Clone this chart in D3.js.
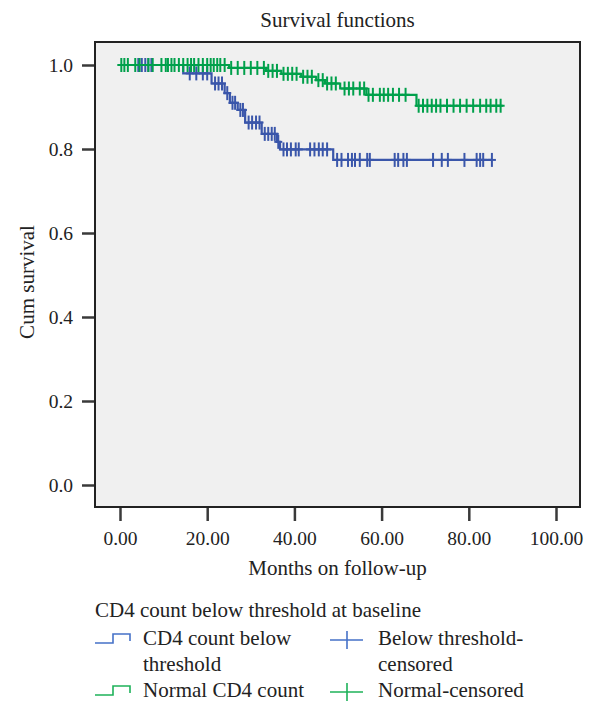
<!DOCTYPE html>
<html>
<head>
<meta charset="utf-8">
<script src="https://cdn.jsdelivr.net/npm/d3@7"></script>
<style>
    body { margin: 0; background: #fff; }
    svg text { font-family: 'Liberation Serif', 'Times New Roman', serif; fill: #222; }
</style>
</head>
<body>
<svg id="chart" width="595" height="701"></svg>
<script>

// Kaplan-Meier steps (months, cumulative survival)
var belowTimes = [0, 14.5, 21, 24, 25.2, 27, 28.7, 32.5, 36, 36.7, 48.9];
var belowSurv = [1, 0.980, 0.956, 0.933, 0.910, 0.893, 0.863, 0.836, 0.817, 0.799, 0.774];
var belowEnd = 85.3;
var belowCensored = [4.2, 5, 5.8, 6.5, 7.2, 16, 17.5, 19, 20, 21.8, 22.6, 23.4, 24.6,
    25.8, 26.4, 27.6, 28.2, 29.5, 30.3, 31.2, 32, 33.2, 34, 34.8, 35.5, 36.3,
    37.5, 38.3, 39.2, 40.3, 41, 43.6, 44.6, 45.6, 46.5, 47.5,
    49.8, 50.8, 52.3, 53.2, 53.9, 55, 56.7, 57.3, 63, 63.8, 65, 65.8,
    71.8, 73.8, 75.2, 79, 81.8, 82.6, 83.3, 85.3];

var normalTimes = [0, 25, 33.5, 37, 41.5, 45, 47, 50.5, 56.5, 68];
var normalSurv = [1, 0.993, 0.986, 0.979, 0.972, 0.964, 0.956, 0.944, 0.929, 0.903];
var normalEnd = 87.8;
var normalCensored = [0.3, 1, 1.8, 3.5, 4.5, 6.5, 7.5, 9.5, 10.5, 11, 11.8, 12.5, 13.5,
    14.5, 15.5, 16.3, 17, 18, 19, 20, 20.8, 21.5, 22.3, 23, 24,
    25.5, 27, 28.5, 30, 31.5, 33, 34, 35, 36, 37.5, 38.5, 39.5, 40.5, 42, 43, 44,
    45.5, 46.5, 47.5, 48.5, 49.5, 51.5, 52.5, 53.5, 55, 56,
    57, 58, 59.6, 60.5, 61.5, 62.6, 64, 65.5,
    68.5, 69.5, 70.5, 71.5, 72.5, 73.5, 75, 76.5, 78, 79.5, 81, 82.6, 84, 85, 86.3, 87.3];

var xTicks = [0, 20, 40, 60, 80, 100];
var yTicks = [0, 0.2, 0.4, 0.6, 0.8, 1.0];

var groups = [
    { name: 'below', times: belowTimes, surv: belowSurv, end: belowEnd, censored: belowCensored,
      color: '#3a56aa', legendColor: '#4672c8' },
    { name: 'normal', times: normalTimes, surv: normalSurv, end: normalEnd, censored: normalCensored,
      color: '#00a04b', legendColor: '#1fb25a' }
];

var svg = d3.select('#chart');

var frame = { left: 95, top: 42, right: 580, bottom: 507 };

var x = d3.scaleLinear().domain([0, 100]).range([120, 556]);
var y = d3.scaleLinear().domain([0, 1]).range([485, 65]);

svg.append('rect')
    .attr('x', frame.left)
    .attr('y', frame.top)
    .attr('width', frame.right - frame.left)
    .attr('height', frame.bottom - frame.top)
    .attr('fill', '#f0f0f0');

// axes
var xAxis = svg.append('g')
    .attr('transform', 'translate(0,' + frame.bottom + ')')
    .call(d3.axisBottom(x)
        .tickValues(xTicks)
        .tickFormat(d3.format('.2f'))
        .tickSize(14)
        .tickPadding(10));

var yAxis = svg.append('g')
    .attr('transform', 'translate(' + frame.left + ',0)')
    .call(d3.axisLeft(y)
        .tickValues(yTicks)
        .tickFormat(d3.format('.1f'))
        .tickSize(13)
        .tickPadding(9));

[xAxis, yAxis].forEach(function(axis) {
    axis.select('.domain').remove();
    axis.selectAll('.tick line').attr('stroke', '#3a3a3a').attr('stroke-width', 2.5);
    axis.selectAll('.tick text')
        .attr('font-size', 19.5)
        .style('font-family', "'Liberation Serif', serif")
        .attr('fill', '#222');
});

svg.append('rect')
    .attr('x', frame.left)
    .attr('y', frame.top)
    .attr('width', frame.right - frame.left)
    .attr('height', frame.bottom - frame.top)
    .attr('fill', 'none')
    .attr('stroke', '#222')
    .attr('stroke-width', 2);

// survival curves
var line = d3.line()
    .x(function(d) { return x(d[0]); })
    .y(function(d) { return y(d[1]); })
    .curve(d3.curveStepAfter);

function levelAt(g, t) {
    var i = d3.bisectRight(g.times, t) - 1;
    return g.surv[Math.max(0, i)];
}

groups.forEach(function(g) {
    var pts = g.times.map(function(t, i) { return [t, g.surv[i]]; });
    pts.push([g.end, g.surv[g.surv.length - 1]]);

    var layer = svg.append('g').attr('class', 'group-' + g.name);

    layer.append('path')
        .attr('d', line(pts))
        .attr('fill', 'none')
        .attr('stroke', g.color)
        .attr('stroke-width', 2.2);

    var marks = layer.selectAll('.censor')
        .data(g.censored)
        .enter()
        .append('g')
        .attr('class', 'censor')
        .attr('transform', function(t) {
            return 'translate(' + x(t) + ',' + y(levelAt(g, t)) + ')';
        });

    marks.append('line')
        .attr('x1', 0).attr('x2', 0)
        .attr('y1', -7).attr('y2', 7)
        .attr('stroke', g.color)
        .attr('stroke-width', 2);

    marks.append('line')
        .attr('x1', -4).attr('x2', 4)
        .attr('y1', 0).attr('y2', 0)
        .attr('stroke', g.color)
        .attr('stroke-width', 2);
});

// titles
svg.append('text')
    .attr('x', (frame.left + frame.right) / 2)
    .attr('y', 27)
    .attr('text-anchor', 'middle')
    .attr('font-size', 21)
    .text('Survival functions');

svg.append('text')
    .attr('x', (frame.left + frame.right) / 2)
    .attr('y', 575)
    .attr('text-anchor', 'middle')
    .attr('font-size', 21)
    .text('Months on follow-up');

svg.append('text')
    .attr('transform', 'translate(34,' + 282 + ') rotate(-90)')
    .attr('text-anchor', 'middle')
    .attr('font-size', 21)
    .text('Cum survival');

// legend
var legend = svg.append('g').attr('class', 'legend');

legend.append('text')
    .attr('x', 95)
    .attr('y', 617)
    .attr('font-size', 21)
    .text('CD4 count below threshold at baseline');

var legendRows = [
    { g: groups[0], y: 645, label: ['CD4 count below', 'threshold'], censorLabel: ['Below threshold-', 'censored'] },
    { g: groups[1], y: 697, label: ['Normal CD4 count'], censorLabel: ['Normal-censored'] }
];

legendRows.forEach(function(r) {
    var by = r.y - 2;
    legend.append('path')
        .attr('d', 'M95,' + by + 'H113V' + (by - 9) + 'H130V' + (by - 2))
        .attr('fill', 'none')
        .attr('stroke', r.g.legendColor)
        .attr('stroke-width', 1.6);

    legend.append('path')
        .attr('d', 'M330,' + (by - 3) + 'H363M347,' + (by - 12) + 'V' + (by + 6))
        .attr('fill', 'none')
        .attr('stroke', r.g.legendColor)
        .attr('stroke-width', 1.6);

    r.label.forEach(function(s, i) {
        legend.append('text')
            .attr('x', 143)
            .attr('y', r.y + i * 25.5)
            .attr('font-size', 21)
            .text(s);
    });

    r.censorLabel.forEach(function(s, i) {
        legend.append('text')
            .attr('x', 378)
            .attr('y', r.y + i * 25.5)
            .attr('font-size', 21)
            .text(s);
    });
});

</script>
</body>
</html>
